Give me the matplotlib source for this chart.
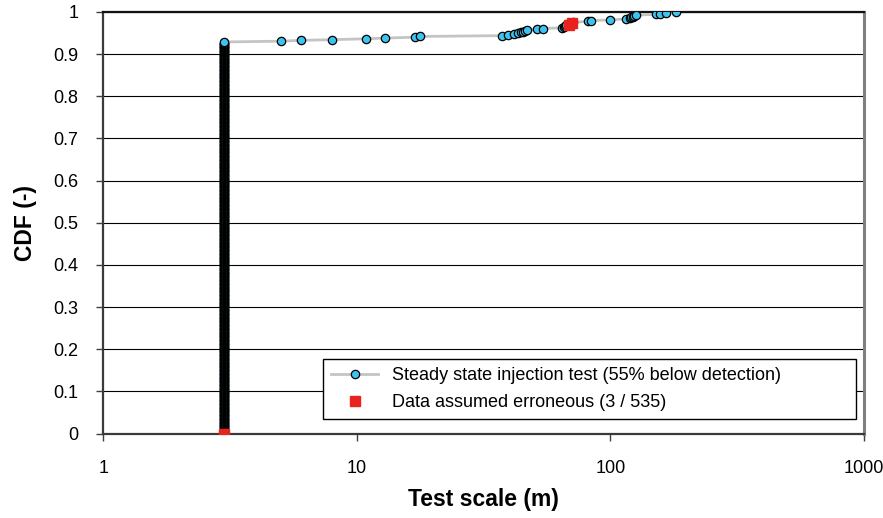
import numpy as np
import matplotlib
matplotlib.use("Agg")
import matplotlib.pyplot as plt

plt.rcParams["font.family"] = ["Liberation Sans", "DejaVu Sans"]

# Test scale (m) of the steady state injection tests
detect_limit = 3.0          # tests below detection plotted at this scale
n_below = 497               # number of tests at the detection value
tail_scale = [5.0, 6.0, 8.0, 10.9, 12.9, 16.9, 17.8,
              37.3, 39.6, 41.5, 43.4, 44.5, 45.4, 46.1, 47.0, 51.2, 54.1,
              64.2, 65.6, 66.0, 67.1, 68.8, 69.5, 70.3, 71.3, 81.7, 84.2,
              99.5, 115.6, 119.2, 121.0, 122.8, 124.0, 126.5,
              151.7, 156.4, 166.0, 181.6]
err_scale = [3.0, 68.8, 70.3]   # data assumed erroneous

series_label = "Steady state injection test (55% below detection)"
err_label = "Data assumed erroneous (3 / 535)"

# empirical CDF
scale = np.sort(np.concatenate([np.full(n_below, detect_limit), tail_scale]))
cdf = np.arange(len(scale)) / (len(scale) - 1)
err_idx = np.searchsorted(scale, err_scale, side="left")

fig = plt.figure(figsize=(8.83, 5.18), dpi=100)
ax = fig.add_axes([0.117, 0.163, 0.8613, 0.8139])

ax.plot(scale, cdf, "-o", color="#c4c4c4", lw=2.0, ms=6,
        mfc="#3ec3f0", mec="black", mew=0.9, label=series_label, zorder=3)
ax.plot(scale[err_idx], cdf[err_idx], "s", color="#e8231e", ms=6.5,
        ls="none", label=err_label, zorder=4)

ax.set_xscale("log")
ax.set_xlim(1, 1000)
ax.set_ylim(0, 1)
ax.set_xticks([1, 10, 100, 1000])
ax.set_xticklabels(["1", "10", "100", "1000"])
ax.xaxis.set_minor_locator(matplotlib.ticker.NullLocator())
ax.set_yticks(np.round(np.arange(0, 1.01, 0.1), 1))
ax.set_yticklabels(["0", "0.1", "0.2", "0.3", "0.4", "0.5", "0.6", "0.7", "0.8", "0.9", "1"])
ax.yaxis.grid(True, color="black", lw=0.8)
ax.set_axisbelow(True)

ax.tick_params(axis="both", direction="out", length=5, width=1, labelsize=13,
               color="#404040")
ax.tick_params(axis="x", pad=14)
ax.tick_params(axis="y", pad=13)

for side in ["left", "bottom"]:
    ax.spines[side].set_color("#3a3a3a")
    ax.spines[side].set_linewidth(1.6)
ax.spines["top"].set_color("#111111")
ax.spines["top"].set_linewidth(1.6)
ax.spines["right"].set_color("#808080")
ax.spines["right"].set_linewidth(2.2)

ax.set_xlabel("Test scale (m)", fontsize=16.5, fontweight="bold", labelpad=8)
ax.set_ylabel("CDF (-)", fontsize=16.5, fontweight="bold", labelpad=12)

leg = ax.legend(loc="lower left", bbox_to_anchor=(0.2888, 0.0342, 0.7007, 0.15),
                mode="expand", borderaxespad=0, fontsize=13, frameon=True,
                fancybox=False, framealpha=1, handlelength=2.6,
                borderpad=0.45, labelspacing=0.55)
leg.get_frame().set_edgecolor("black")
leg.get_frame().set_linewidth(1.0)

fig.savefig("out.png", dpi=100)
